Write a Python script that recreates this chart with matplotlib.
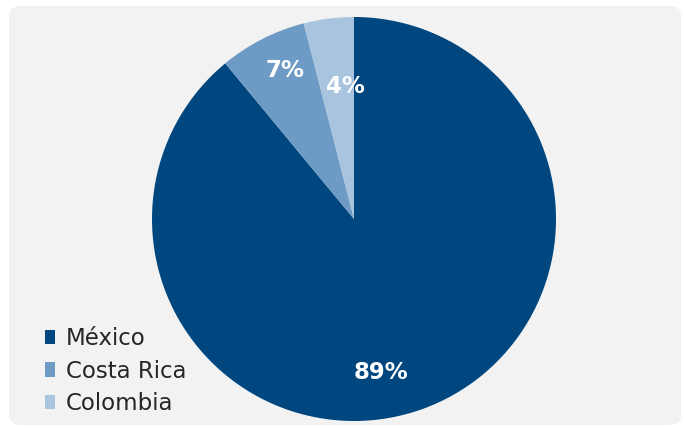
import numpy as np
import matplotlib
matplotlib.use("Agg")
import matplotlib.pyplot as plt
from matplotlib.patches import FancyBboxPatch, Patch

categories = ["México", "Costa Rica", "Colombia"]
values = [89, 7, 4]
colors = ["#00467f", "#6e9bc5", "#a9c4df"]
label_texts = ["89%", "7%", "4%"]
# label placement (fraction of radius, angular offset in degrees)
label_r = [0.772, 0.809, 0.655]
label_dang = [-9.7, -2.0, -3.3]

W, H = 684, 428
fig = plt.figure(figsize=(W / 100, H / 100), dpi=100)
fig.patch.set_facecolor("white")

bg = FancyBboxPatch((9 / W, 3 / H), (672 / W), (419 / H),
                    boxstyle="round,pad=0,rounding_size=0.02",
                    transform=fig.transFigure, facecolor="#f2f2f2",
                    edgecolor="none", zorder=-5)
fig.patches.append(bg)

cx, cy, R = 354, H - 219, 202
ax = fig.add_axes([(cx - R) / W, (cy - R) / H, 2 * R / W, 2 * R / H])
ax.set_zorder(1)
ax.set_facecolor("none")
wedges, _ = ax.pie(values, colors=colors, startangle=90, counterclock=False,
                   radius=1, wedgeprops=dict(linewidth=0))
ax.set_xlim(-1, 1)
ax.set_ylim(-1, 1)
ax.set_aspect("equal")
ax.axis("off")

for w, t, r, da in zip(wedges, label_texts, label_r, label_dang):
    mid = np.deg2rad((w.theta1 + w.theta2) / 2 + da)
    ax.text(r * np.cos(mid), r * np.sin(mid), t, ha="center", va="center",
            color="white", fontsize=16.5, fontweight="bold",
            family="DejaVu Sans")

handles = [Patch(facecolor=c, edgecolor="none") for c in colors]
leg = fig.legend(handles, categories, loc="upper left",
                 bbox_to_anchor=(45 / W, 1 - 327 / H),
                 frameon=False, handlelength=0.45,
                 handleheight=0.6, handletextpad=0.45, labelspacing=0.42,
                 borderaxespad=0, borderpad=0,
                 prop=dict(family="DejaVu Sans", size=16.5))
leg.set_zorder(2)
for txt in leg.get_texts():
    txt.set_color("#262626")

fig.savefig("out.png", dpi=100)
